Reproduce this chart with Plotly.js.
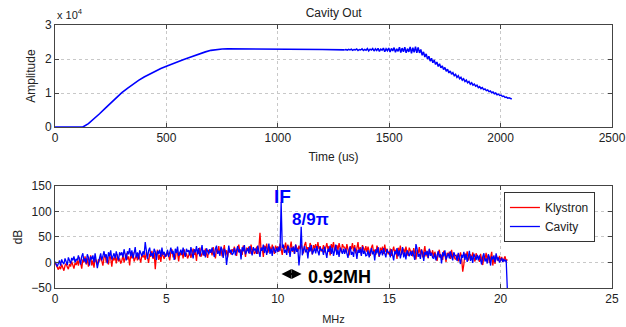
<!DOCTYPE html>
<html>
<head>
<meta charset="utf-8">
<script src="https://cdn.plot.ly/plotly-3.0.1.min.js"></script>
<style>html,body{margin:0;padding:0;background:#fff;}#chart{width:626px;height:327px;}</style>
</head>
<body>
<div id="chart"></div>
<script>
// ---- Top panel: Cavity Out amplitude (units of 10^4) ----
const riseTime = [0,125,150,175,200,225,250,275,300,325,350,375,400,425,450,475,500,525,550,575,600,625,650,675,700,725,750,775,850,1000,1100,1200,1300];
const riseAmp  = [0,0,0.10,0.24,0.39,0.55,0.71,0.87,1.01,1.14,1.26,1.37,1.47,1.56,1.64,1.72,1.79,1.86,1.92,1.98,2.04,2.10,2.16,2.21,2.255,2.28,2.295,2.30,2.30,2.29,2.29,2.28,2.27];

// flat top with growing ripple, sampled every 6 us from 1300 us
const flatStart = 1300;
const flatAmp = [2.27,2.28,2.26,2.285,2.27,2.29,2.255,2.28,2.27,2.295,
  2.25,2.28,2.265,2.30,2.25,2.285,2.26,2.305,2.24,2.29,
  2.265,2.31,2.235,2.30,2.25,2.315,2.225,2.29,2.26,2.32,
  2.215,2.30,2.245,2.325,2.205,2.31,2.24,2.335,2.20,2.30,
  2.225,2.345,2.19,2.32,2.215,2.35,2.18,2.305,2.21,2.355,
  2.17,2.33,2.195,2.365,2.18,2.34];

// decay, sampled every 6 us from 1630 us
const decayStart = 1630;
const decayAmp = [2.34,2.18,2.28,2.11,2.21,2.06,2.15,2.00,2.08,1.94,
  2.02,1.89,1.97,1.84,1.91,1.78,1.86,1.74,1.80,1.69,
  1.75,1.64,1.70,1.59,1.65,1.55,1.60,1.51,1.55,1.46,
  1.51,1.42,1.46,1.38,1.42,1.34,1.38,1.30,1.34,1.26,
  1.30,1.23,1.26,1.20,1.23,1.16,1.19,1.13,1.16,1.10,
  1.12,1.07,1.09,1.04,1.06,1.01,1.03,0.98,1.00,0.95,
  0.97,0.93,0.94,0.90,0.91,0.87,0.88,0.85,0.86,0.83,0.825];
const timeStep = 6;

// ---- Bottom panel: spectra (dB), sampled every 0.05 MHz from 0 MHz ----
const freqStart = 0;
const freqStep = 0.05;
const klystronDb = [
  0,-6,-10,-14,-8,-13,-4,-11,-16,-6,-2,-9,-13,-3,-8,2,-7,-12,-1,-5,
  4,-6,10,-2,-12,6,0,12,-4,8,-8,2,14,-6,4,-10,8,2,-4,6,
  2,12,4,-6,10,16,0,6,-4,14,8,-8,10,4,12,-2,16,2,8,-2,
  4,14,0,10,18,6,12,-6,16,8,20,2,10,14,4,18,8,0,16,10,
  15,5,21,9,-1,17,11,23,7,19,-13,13,25,5,15,1,19,13,7,17,
  12,22,14,4,20,26,10,16,6,24,18,2,20,14,22,8,26,12,18,8,
  13,23,9,19,27,15,21,3,25,17,29,11,19,23,13,27,17,9,25,19,
  24,14,30,18,8,26,20,32,16,28,12,22,34,14,24,10,28,22,16,26,
  21,31,23,13,29,35,19,25,15,33,27,11,29,23,31,17,35,21,27,17,
  21,31,17,27,58,23,29,11,33,25,37,19,27,31,21,35,25,17,33,27,
  31,21,37,25,15,33,27,39,23,35,19,29,41,21,31,17,35,29,23,33,
  26,36,28,18,34,40,24,30,20,38,32,16,34,28,36,22,40,26,32,22,
  24,34,20,30,38,26,32,14,36,28,40,22,30,34,24,38,28,20,36,30,
  30,20,36,24,14,32,26,38,22,34,18,28,40,20,30,16,34,28,22,32,
  21,31,23,13,29,35,19,25,15,33,27,11,29,23,31,17,35,21,27,17,
  17,27,13,23,31,19,25,7,29,21,33,15,23,27,17,31,21,13,29,23,
  22,12,28,16,6,24,18,30,14,26,10,20,32,12,22,8,26,20,14,24,
  11,21,13,3,19,25,9,15,5,23,17,1,19,13,21,7,25,11,17,7,
  6,16,2,12,20,8,-18,-4,18,10,22,4,12,16,6,20,10,2,18,12,
  11,1,17,5,-5,13,7,19,3,15,-1,9,21,-6,11,-3,15,9,3,13,
  3,11,1,7,12,2,6];
const cavityDb = [
  2,-4,-8,-2,4,-6,6,0,-3,8,3,-5,10,2,-2,9,4,12,0,7,
  4,14,6,-4,12,18,2,8,-2,16,10,-6,12,6,14,0,18,4,-11,0,
  8,18,4,14,22,10,16,-2,20,12,24,6,14,18,8,22,12,4,20,14,
  20,10,26,14,4,22,16,28,12,24,8,18,30,10,20,6,24,18,12,22,
  15,40,17,7,23,29,13,19,9,27,21,5,23,17,25,11,29,15,21,11,
  15,25,11,21,29,17,23,5,27,19,31,13,21,25,15,29,19,11,27,21,
  24,14,30,18,8,26,20,32,16,28,12,22,34,14,24,10,28,22,16,26,
  19,29,21,11,27,33,17,23,13,31,25,9,27,21,-5,15,33,19,25,15,
  18,28,14,24,32,20,26,6,30,22,34,16,24,28,18,32,22,14,30,24,
  27,17,33,21,11,29,23,35,19,31,15,25,37,17,27,13,31,25,19,29,
  21,31,23,118,29,35,19,25,15,33,27,11,29,23,31,17,35,21,27,-6,
  18,70,14,24,32,20,26,8,30,22,34,16,24,28,18,32,22,14,30,24,
  25,15,31,19,9,27,21,33,17,29,13,23,35,15,25,11,29,23,17,27,
  17,27,19,9,25,31,15,21,11,29,23,7,25,19,27,13,31,17,23,13,
  14,24,10,20,28,16,22,4,26,18,30,12,20,24,14,28,18,10,26,20,
  20,10,26,14,4,22,16,28,12,24,8,18,30,10,20,6,24,18,12,22,
  13,23,15,5,36,27,11,17,7,25,19,3,21,15,23,9,27,13,19,9,
  8,18,4,14,22,10,16,-2,20,12,24,6,14,18,8,22,12,4,20,14,
  13,3,19,7,-3,15,9,21,5,17,1,11,23,3,13,-1,17,11,5,15,
  4,14,6,-4,12,18,2,8,-2,16,10,-6,12,6,14,0,18,4,10,0,
  4,9,1,7,2,5,-50];
const seriesNames = ['Klystron', 'Cavity'];

const BLUE = '#0000ff', RED = '#ff0000';
const font = 'Liberation Sans, Arial, sans-serif';

const traces = [
  {x: riseTime, y: riseAmp, type: 'scatter', mode: 'lines', line: {color: BLUE, width: 1.6}, showlegend: false, xaxis: 'x', yaxis: 'y'},
  {x0: flatStart, dx: timeStep, y: flatAmp, type: 'scatter', mode: 'lines', line: {color: BLUE, width: 1.5}, showlegend: false, xaxis: 'x', yaxis: 'y'},
  {x0: decayStart, dx: timeStep, y: decayAmp, type: 'scatter', mode: 'lines', line: {color: BLUE, width: 1.5}, showlegend: false, xaxis: 'x', yaxis: 'y'},
  {x0: freqStart, dx: freqStep, y: klystronDb, name: seriesNames[0], type: 'scatter', mode: 'lines', line: {color: RED, width: 1.3}, xaxis: 'x2', yaxis: 'y2'},
  {x0: freqStart, dx: freqStep, y: cavityDb, name: seriesNames[1], type: 'scatter', mode: 'lines', line: {color: BLUE, width: 1.3}, xaxis: 'x2', yaxis: 'y2'}
];

const axisCommon = {
  showline: true, linecolor: '#444', linewidth: 1, mirror: 'ticks',
  ticks: 'inside', ticklen: 4, tickcolor: '#444', tickwidth: 1,
  showgrid: true, gridcolor: '#c8c8c8', griddash: 'dot', gridwidth: 1,
  zeroline: false, tickfont: {family: font, size: 12, color: '#222'}
};

const layout = {
  width: 626, height: 327,
  margin: {l: 55, r: 14, t: 25, b: 39},
  paper_bgcolor: '#fff', plot_bgcolor: '#fff',
  font: {family: font, size: 12, color: '#222'},
  title: {text: 'Cavity Out', font: {family: font, size: 12, color: '#222'}, x: 0.533, xanchor: 'center', y: 0.962, yanchor: 'middle'},
  xaxis: Object.assign({}, axisCommon, {domain: [0, 1], anchor: 'y', range: [0, 2500], dtick: 500,
    title: {text: 'Time (us)', font: {family: font, size: 12, color: '#222'}, standoff: 8}}),
  yaxis: Object.assign({}, axisCommon, {domain: [0.612, 1], anchor: 'x', range: [0, 3], dtick: 1,
    title: {text: 'Amplitude', font: {family: font, size: 12, color: '#222'}, standoff: 6}}),
  xaxis2: Object.assign({}, axisCommon, {domain: [0, 1], anchor: 'y2', range: [0, 25], dtick: 5,
    title: {text: 'MHz', font: {family: font, size: 11, color: '#222'}, standoff: 9}}),
  yaxis2: Object.assign({}, axisCommon, {domain: [0, 0.388], anchor: 'x2', range: [-50, 150], dtick: 50,
    title: {text: 'dB', font: {family: font, size: 12, color: '#222'}, standoff: 6}}),
  legend: {x: 0.806, y: 0.365, xanchor: 'left', yanchor: 'top', bgcolor: '#fff', bordercolor: '#333', borderwidth: 1,
    font: {family: font, size: 12, color: '#222'}, tracegroupgap: 0},
  showlegend: true,
  annotations: [
    {xref: 'paper', yref: 'paper', x: 0, y: 1.04, xanchor: 'left', yanchor: 'middle', showarrow: false,
     text: 'x 10<sup>4</sup>', font: {family: font, size: 11, color: '#222'}},
    {xref: 'x2', yref: 'y2', x: 10.23, y: 129, showarrow: false, text: '<b>IF</b>',
     font: {family: font, size: 19, color: BLUE}},
    {xref: 'x2', yref: 'y2', x: 11.45, y: 85, showarrow: false, text: '<b>8/9π</b>',
     font: {family: font, size: 17, color: BLUE}},
    {xref: 'x2', yref: 'y2', x: 12.75, y: -28, showarrow: false, text: '<b>0.92MH</b>',
     font: {family: font, size: 18, color: '#000'}},
    {xref: 'x2', yref: 'y2', x: 11.07, y: -22.5, axref: 'x2', ayref: 'y2', ax: 10.1, ay: -22.5,
     showarrow: true, arrowside: 'end+start', arrowhead: 2, arrowsize: 1, arrowwidth: 2, arrowcolor: '#000', text: ''}
  ]
};

Plotly.newPlot('chart', traces, layout, {staticPlot: true, displayModeBar: false});
</script>
</body>
</html>
